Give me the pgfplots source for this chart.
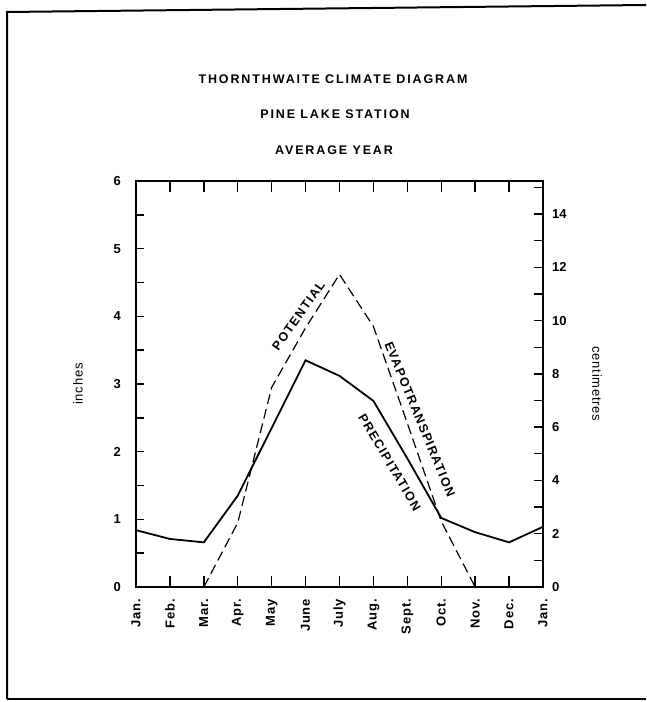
\documentclass[border=0pt]{standalone}
\usepackage{pgfplots}
\pgfplotsset{compat=1.18}
\usepackage{fontspec}
\setmainfont{Liberation Sans}
\newfontfamily\lsfont{Liberation Sans}[LetterSpace=15]
\newfontfamily\lslfont{Liberation Sans}[LetterSpace=10]
\newfontfamily\lsmfont{Liberation Sans}[LetterSpace=6]
\begin{document}
\begin{tikzpicture}[x=1pt,y=1pt]
\path[use as bounding box] (0,0) rectangle (646,702);
\draw[line width=2pt] (7,3) -- (7,690) -- (646,697);
\draw[line width=2pt] (7,3) -- (646,3);
\node[font=\lsfont\bfseries\fontsize{12.5}{15}\selectfont] at (333,623) {THORNTHWAITE CLIMATE DIAGRAM};
\node[font=\lsfont\bfseries\fontsize{12.5}{15}\selectfont] at (335,588) {PINE LAKE STATION};
\node[font=\lsfont\bfseries\fontsize{12.5}{15}\selectfont] at (334,552) {AVERAGE YEAR};
% main axis: x ticks and curves
\begin{axis}[
  at={(136pt,115pt)}, anchor=south west, scale only axis,
  width=407pt, height=406pt,
  xmin=0, xmax=12, ymin=0, ymax=6,
  axis line style={line width=1.7pt},
  xtick={0,...,12},
  xticklabels={Jan.,Feb.,Mar.,Apr.,May,June,July,Aug.,Sept.,Oct.,Nov.,Dec.,Jan.},
  xtick pos=both, xticklabel pos=lower,
  xticklabel shift=12pt,
  xticklabel style={rotate=90, anchor=east, inner sep=0pt, font=\lsmfont\bfseries\fontsize{13}{15}\selectfont},
  ytick=\empty,
  tick align=inside,
  major tick length=11pt,
  tick style={line width=1.4pt, black},
  clip=false,
]
\addplot[black, line width=1.8pt] coordinates {
 (0,0.84) (1,0.71) (2,0.66) (3,1.35) (4,2.35) (5,3.35) (6,3.12) (7,2.75) (8,1.9) (9,1.02) (10,0.81) (11,0.66) (12,0.89)};
\addplot[black, line width=1.2pt, dash pattern=on 10pt off 5pt] coordinates {
 (2,0) (3,0.95) (4,2.95) (5,3.83) (6,4.62) (7,3.85) (8,2.42) (9,0.97) (10,0)};
\node[font=\lslfont\bfseries\fontsize{12.5}{14}\selectfont, rotate=54.5] at (axis cs:4.79,4.01) {POTENTIAL};
\node[font=\lslfont\bfseries\fontsize{12.5}{14}\selectfont, rotate=-67.6] at (axis cs:8.37,2.48) {EVAPOTRANSPIRATION};
\node[font=\lslfont\bfseries\fontsize{12.5}{14}\selectfont, rotate=-59.2] at (axis cs:7.48,1.84) {PRECIPITATION};
\end{axis}
% left y axis (inches)
\begin{axis}[
  at={(136pt,115pt)}, anchor=south west, scale only axis,
  width=407pt, height=406pt,
  xmin=0, xmax=12, ymin=0, ymax=6,
  hide x axis,
  axis y line*=left,
  axis line style={line width=1.7pt},
  ytick={0,...,6},
  minor ytick={0.5,1.5,...,5.5},
  tick align=inside,
  major tick length=8pt, minor tick length=8pt,
  tick style={line width=1.4pt, black},
  yticklabel shift=15pt,
  yticklabel style={anchor=east, inner sep=0pt, font=\bfseries\fontsize{13}{15}\selectfont},
  /pgf/number format/assume math mode=true,
  ylabel={inches},
  every axis y label/.style={at={(axis description cs:-0.1425,0.5)}, rotate=90, anchor=center, font=\lsmfont\fontsize{13}{15}\selectfont},
]
\end{axis}
% right y axis (centimetres)
\begin{axis}[
  at={(136pt,115pt)}, anchor=south west, scale only axis,
  width=407pt, height=406pt,
  xmin=0, xmax=12, ymin=0, ymax=15.24,
  hide x axis,
  axis y line*=right,
  axis line style={line width=1.7pt},
  ytick={0,2,...,14},
  minor ytick={1,3,...,15},
  tick align=inside,
  major tick length=9pt, minor tick length=9pt,
  tick style={line width=1.4pt, black},
  yticklabel shift=9pt,
  yticklabel style={anchor=west, inner sep=0pt, font=\bfseries\fontsize{13}{15}\selectfont},
  /pgf/number format/assume math mode=true,
  ylabel={centimetres},
  every axis y label/.style={at={(axis description cs:1.1327,0.5)}, rotate=-90, anchor=center, font=\lsmfont\fontsize{13}{15}\selectfont},
]
\end{axis}
\end{tikzpicture}
\end{document}
